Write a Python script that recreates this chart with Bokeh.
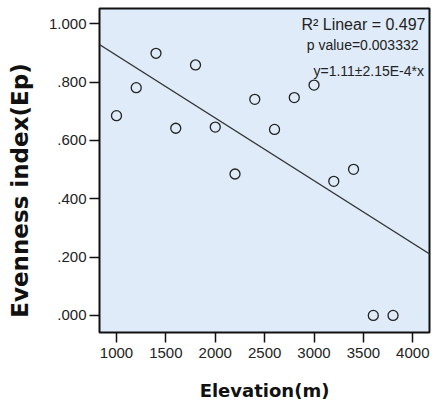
from bokeh.plotting import figure
from bokeh.models import FixedTicker, Range1d, Label, Slope, ColumnDataSource
from bokeh.embed import file_html
from bokeh.resources import INLINE

# ---- data ----
elevation = [1000, 1200, 1400, 1600, 1800, 2000, 2200, 2400, 2600, 2800, 3000, 3200, 3400, 3600, 3800]
evenness = [0.685, 0.781, 0.899, 0.642, 0.859, 0.646, 0.485, 0.741, 0.638, 0.747, 0.790, 0.460, 0.501, 0.0, 0.0]

fit_intercept = 1.107
fit_slope = -2.15e-4

x_ticks = [1000, 1500, 2000, 2500, 3000, 3500, 4000]
y_ticks = [0.0, 0.2, 0.4, 0.6, 0.8, 1.0]
y_tick_labels = [".000", ".200", ".400", ".600", ".800", "1.000"]

x_title = "Elevation(m)"
y_title = "Evenness index(Ep)"
r2_text = "R\u00b2 Linear = 0.497"
p_text = "p value=0.003332"
eq_text = "y=1.11\u00b12.15E-4*x"

# ---- figure ----
W, H = 432, 409
p = figure(width=W, height=H, output_backend="svg", toolbar_location=None,
           x_range=Range1d(828, 4169), y_range=Range1d(-0.0585, 1.0526),
           min_border_left=99, min_border_right=3, min_border_top=8, min_border_bottom=77)

p.border_fill_color = "white"
p.background_fill_color = "#DFEBF8"
p.outline_line_color = "#111111"
p.outline_line_width = 2
p.grid.visible = False

# axes
for ax in (p.xaxis[0], p.yaxis[0]):
    ax.axis_line_color = None
    ax.major_tick_line_color = "#111111"
    ax.major_tick_line_width = 1.5
    ax.major_tick_in = 0
    ax.major_tick_out = 10
    ax.minor_tick_line_color = None
    ax.major_label_text_font = "Liberation Sans"
    ax.major_label_text_font_size = "15px"
    ax.major_label_text_color = "#222222"
    ax.axis_label_text_font = "DejaVu Sans"
    ax.axis_label_text_font_style = "bold"
    ax.axis_label_text_color = "#111111"

p.xaxis.ticker = FixedTicker(ticks=x_ticks)
p.yaxis.ticker = FixedTicker(ticks=y_ticks)
p.yaxis.major_label_overrides = {t: l for t, l in zip(y_ticks, y_tick_labels)}
p.xaxis.major_label_standoff = 5
p.yaxis.major_label_standoff = 3

p.xaxis.axis_label = x_title
p.xaxis.axis_label_text_font_size = "18px"
p.xaxis.axis_label_standoff = 19

# trailing no-break spaces shift the centred title down along the axis
p.yaxis.axis_label = y_title + "\u00a0" * 5
p.yaxis.axis_label_text_font_size = "23px"
p.yaxis.axis_label_standoff = 13

# regression line
p.add_layout(Slope(gradient=fit_slope, y_intercept=fit_intercept,
                   line_color="#333333", line_width=1.3))

# points
src = ColumnDataSource(dict(x=elevation, y=evenness))
p.scatter("x", "y", source=src, marker="circle", size=10,
          fill_color=None, line_color="#222222", line_width=1.3)

# annotations (screen units relative to the frame, origin bottom-left)
p.add_layout(Label(x=326, y=308, x_units="screen", y_units="screen", text=r2_text,
                   text_align="right", text_baseline="middle",
                   text_font="Liberation Sans", text_font_size="16px", text_color="#222222"))
p.add_layout(Label(x=319, y=287.5, x_units="screen", y_units="screen", text=p_text,
                   text_align="right", text_baseline="middle",
                   text_font="Liberation Sans", text_font_size="14px", text_color="#222222"))
p.add_layout(Label(x=324.5, y=262, x_units="screen", y_units="screen", text=eq_text,
                   text_align="right", text_baseline="middle",
                   text_font="Liberation Sans", text_font_size="14px", text_color="#222222"))

open("out.html", "w").write(file_html(p, INLINE))
